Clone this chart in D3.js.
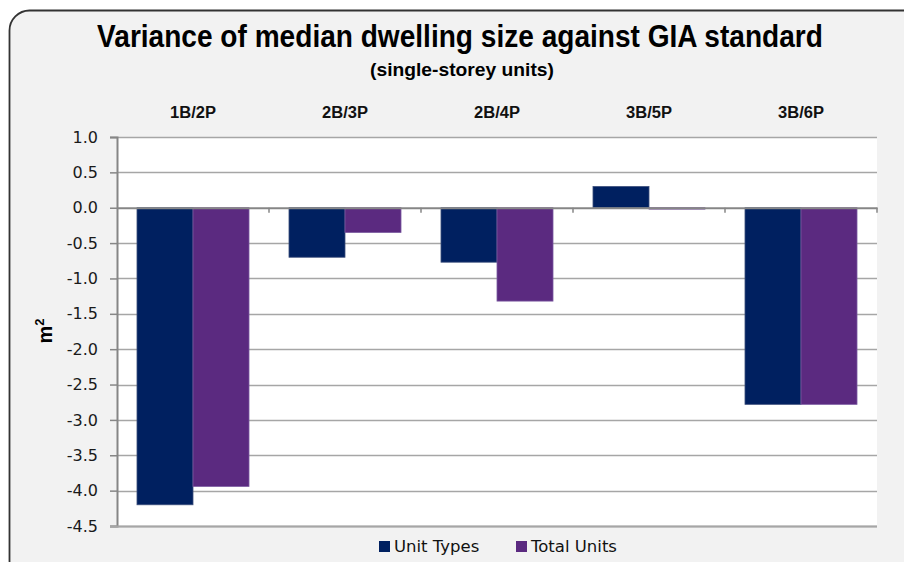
<!DOCTYPE html>
<html>
<head>
<meta charset="utf-8">
<script src="https://cdn.jsdelivr.net/npm/d3@7"></script>
<style>
  html, body { margin: 0; padding: 0; background: #ffffff; }
  svg { display: block; }
</style>
</head>
<body>
<svg id="chart" width="904" height="562"></svg>
<script>
// Dwelling categories (bedrooms / persons)
const categories = ["1B/2P", "2B/3P", "2B/4P", "3B/5P", "3B/6P"];
// Variance against the GIA standard, m²
const unitTypes  = [-4.2, -0.7, -0.77, 0.3, -2.78];
const totalUnits = [-3.94, -0.35, -1.32, -0.02, -2.78];
const seriesNames = ["Unit Types", "Total Units"];
const seriesColors = ["#002060", "#5b2a80"];
const yTicks = [1.0, 0.5, 0.0, -0.5, -1.0, -1.5, -2.0, -2.5, -3.0, -3.5, -4.0, -4.5];

const svg = d3.select("#chart");
const narrow = "'Liberation Sans Narrow', 'Arial Narrow', 'Liberation Sans', Arial, sans-serif";
const sans = "'DejaVu Sans', Verdana, sans-serif";

// Fit a text element horizontally to a target width around its anchor point
function fitWidth(sel, cx, cy, width) {
  const natural = sel.node().getComputedTextLength();
  const k = width / natural;
  sel.attr("x", 0).attr("y", 0)
     .attr("transform", `translate(${cx},${cy}) scale(${k},1)`);
}

// Card background with rounded corners
svg.append("rect")
  .attr("x", 9.5).attr("y", 10.5)
  .attr("width", 920).attr("height", 570)
  .attr("rx", 20).attr("ry", 20)
  .attr("fill", "#f2f2f2")
  .attr("stroke", "#333333")
  .attr("stroke-width", 1.8);

const plot = { left: 117, top: 137, right: 877, bottom: 526 };

const y = d3.scaleLinear().domain([-4.5, 1.0]).range([plot.bottom, plot.top]);
const x0 = d3.scaleBand().domain(categories).range([plot.left, plot.right]).paddingInner(0).paddingOuter(0);
const x1 = d3.scaleBand().domain(seriesNames).range([0, x0.bandwidth()]).paddingOuter(0.357).paddingInner(0);

// Plot area
svg.append("rect")
  .attr("x", plot.left).attr("y", plot.top)
  .attr("width", plot.right - plot.left).attr("height", plot.bottom - plot.top)
  .attr("fill", "#ffffff");

// Horizontal gridlines
svg.append("g").selectAll("line")
  .data(yTicks.filter(d => d !== 0))
  .join("line")
  .attr("x1", plot.left).attr("x2", plot.right)
  .attr("y1", d => Math.round(y(d)) + 0.5).attr("y2", d => Math.round(y(d)) + 0.5)
  .attr("stroke", "#a6a6a6").attr("stroke-width", 1.5);

// Y axis
const yAxis = d3.axisLeft(y).tickValues(yTicks).tickFormat(d3.format(".1f")).tickSize(7).tickPadding(12);
const gy = svg.append("g").attr("transform", `translate(${plot.left},0)`).call(yAxis);
gy.select(".domain").attr("stroke", "#868686").attr("stroke-width", 2);
gy.selectAll(".tick line").attr("stroke", "#868686").attr("stroke-width", 1.5);
gy.selectAll(".tick text")
  .attr("font-family", sans).attr("font-size", 16).attr("fill", "#1a1a1a")
  .text(d => d3.format(".1f")(d).replace("−", "-"));

// Bars
const data = categories.map((c, i) => ({ cat: c, values: [unitTypes[i], totalUnits[i]] }));
const groups = svg.append("g").selectAll("g")
  .data(data).join("g")
  .attr("transform", d => `translate(${x0(d.cat)},0)`);
groups.selectAll("rect")
  .data(d => d.values.map((v, j) => ({ v, s: seriesNames[j], j })))
  .join("rect")
  .attr("x", d => x1(d.s))
  .attr("width", x1.bandwidth())
  .attr("y", d => y(Math.max(0, d.v)))
  .attr("height", d => Math.abs(y(d.v) - y(0)))
  .attr("fill", d => seriesColors[d.j])
  .attr("stroke", d => d.j === 0 ? "#3c4f7c" : "#7a5aa0")
  .attr("stroke-width", 0.8);

// Zero axis with category dividers
const xAxis = d3.axisBottom(x0).tickValues([]).tickSize(0);
const gx = svg.append("g").attr("transform", `translate(0,${y(0)})`).call(xAxis);
gx.select(".domain").attr("stroke", "#868686").attr("stroke-width", 2);
svg.append("g").selectAll("line")
  .data(categories.slice(1).map(c => x0(c)).concat([plot.right]))
  .join("line")
  .attr("x1", d => d).attr("x2", d => d)
  .attr("y1", y(0)).attr("y2", y(0) + 5)
  .attr("stroke", "#868686").attr("stroke-width", 1.5);

// Bottom frame line
svg.append("line")
  .attr("x1", plot.left - 7).attr("x2", plot.right)
  .attr("y1", plot.bottom + 0.5).attr("y2", plot.bottom + 0.5)
  .attr("stroke", "#a6a6a6").attr("stroke-width", 2);

// Category labels above the plot
svg.append("g").selectAll("text")
  .data(categories).join("text")
  .attr("text-anchor", "middle")
  .attr("font-family", narrow).attr("font-weight", "bold").attr("font-size", 17)
  .attr("fill", "#111111")
  .text(d => d)
  .each(function (d) { fitWidth(d3.select(this), x0(d) + x0.bandwidth() / 2, 118, 46); });

// Title and subtitle
const title = svg.append("text")
  .attr("text-anchor", "middle")
  .attr("font-family", narrow).attr("font-weight", "bold").attr("font-size", 32)
  .attr("fill", "#000000")
  .text("Variance of median dwelling size against GIA standard");
fitWidth(title, 460, 47, 726);
const subtitle = svg.append("text")
  .attr("text-anchor", "middle")
  .attr("font-family", narrow).attr("font-weight", "bold").attr("font-size", 18)
  .attr("fill", "#000000")
  .text("(single-storey units)");
fitWidth(subtitle, 462, 76, 184);

// Y axis title
const yt = svg.append("text")
  .attr("transform", "translate(52,331) rotate(-90)")
  .attr("text-anchor", "middle")
  .attr("font-family", "'Liberation Sans', Arial, sans-serif").attr("font-weight", "bold").attr("font-size", 20)
  .attr("fill", "#000000");
yt.append("tspan").text("m");
yt.append("tspan").attr("font-size", 13).attr("dy", -8).text("2");

// Legend
const legendItems = [{ name: seriesNames[0], x: 379 }, { name: seriesNames[1], x: 516 }];
const lg = svg.append("g").selectAll("g").data(legendItems).join("g")
  .attr("transform", d => `translate(${d.x},541)`);
lg.append("rect").attr("width", 11).attr("height", 11)
  .attr("fill", (d, i) => seriesColors[i]);
lg.append("text").attr("x", 15).attr("y", 11)
  .attr("font-family", sans).attr("font-size", 16.5)
  .attr("fill", "#111111")
  .text(d => d.name);
</script>
</body>
</html>
